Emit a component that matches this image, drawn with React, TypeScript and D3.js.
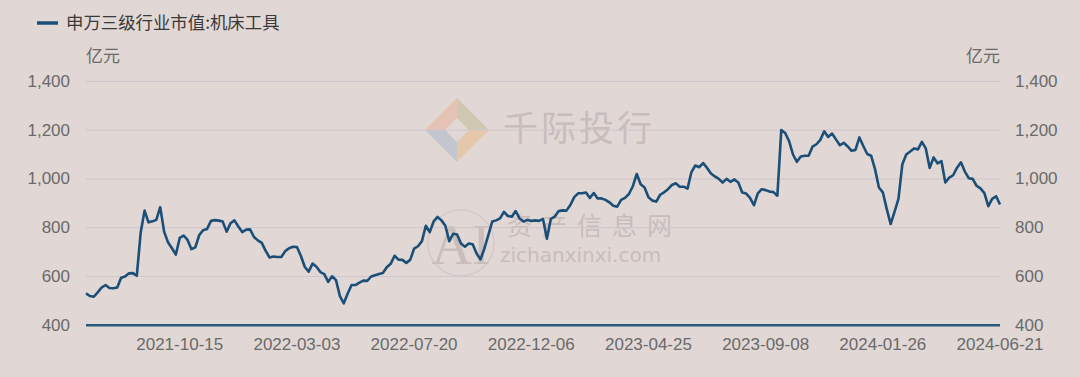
import React from "react";
import * as d3 from "d3";

const seriesName = "申万三级行业市值:机床工具";
const unitLabel = "亿元";
const yTicks = [400, 600, 800, 1000, 1200, 1400];
const xTickLabels = ["2021-10-15", "2022-03-03", "2022-07-20", "2022-12-06", "2023-04-25", "2023-09-08", "2024-01-26", "2024-06-21"];
const xTickIndex = [24, 54, 84, 114, 144, 174, 204, 234];

const values = [
  531, 520, 517, 535, 555, 565, 553, 552, 555, 595,
  600, 613, 614, 603, 780, 870, 822, 826, 832, 884,
  784, 740, 716, 690, 758, 768, 750, 712, 720, 770,
  790, 795, 828, 831, 829, 825, 784, 818, 830, 805,
  782, 792, 793, 762, 748, 738, 705, 678, 682, 680,
  680, 704, 716, 722, 721, 685, 640, 620, 653, 640,
  618, 610, 578, 601, 585, 520, 490, 530, 565, 565,
  575, 583, 582, 600, 605, 610, 614, 638, 652, 685,
  669, 668, 656, 668, 714, 724, 745, 808, 782, 826,
  844, 830, 808, 745, 775, 772, 735, 722, 735, 732,
  694, 670, 715, 770, 825, 830, 838, 865, 848, 845,
  868, 838, 825, 832, 828, 830, 828, 836, 755, 836,
  845, 868, 871, 870, 893, 925, 941, 941, 944, 922,
  942, 920, 920, 914, 904, 890, 886, 914, 922, 938,
  970, 1020, 978, 965, 925, 911, 907, 935, 945, 958,
  975, 982, 968, 968, 960, 1028, 1055, 1048, 1065, 1045,
  1022, 1010, 1000, 985, 1000, 988, 998, 985, 944, 940,
  922, 892, 941, 958, 954, 948, 946, 931, 1200, 1188,
  1155, 1100, 1070, 1092, 1095, 1095, 1132, 1142, 1160, 1195,
  1172, 1186, 1162, 1138, 1148, 1133, 1115, 1119, 1170, 1135,
  1102, 1095, 1040, 965, 945, 877, 815, 865, 918, 1060,
  1100, 1112, 1125, 1121, 1152, 1125, 1045, 1088, 1064, 1073,
  985, 1005, 1015, 1046, 1068, 1030, 1003, 1000, 972, 961,
  942, 888, 918, 929, 895,
];

const W = 1080;
const H = 377;
const left = 86;
const right = 1000;
const top = 81.3;
const bottom = 325.3;

const BG = "#e1d7d5";
const LINE = "#1b4f78";
const GRID = "#cfc5cc";
const AXIS = "#26597a";
const TXT = "#6a6a6a";
const FONT = "'Liberation Sans', Arial, 'Noto Sans CJK SC', sans-serif";
const CJK = "'Noto Sans CJK SC', 'Liberation Sans', sans-serif";

export default function App() {
  const x = d3.scaleLinear().domain([0, values.length - 1]).range([left, right]);
  const y = d3.scaleLinear().domain([400, 1400]).range([bottom, top]);
  const line = d3
    .line<number>()
    .x((_, i) => x(i))
    .y((d) => y(d));
  const fmt = d3.format(",");

  const cx = 457, cy = 130, r = 32;
  return (
    <svg width={W} height={H} style={{ position: "absolute", left: 0, top: 0, background: BG }}>
      <rect x={0} y={0} width={W} height={H} fill={BG} />
      {/* watermarks */}
      <g opacity={0.45}>
        <polygon points={`${cx - r},${cy} ${cx},${cy - r} ${cx},${cy - 12} ${cx - 12},${cy}`} fill="#e9a98e" />
        <polygon points={`${cx},${cy - r} ${cx + r},${cy} ${cx + 12},${cy} ${cx},${cy - 12}`} fill="#bdb48a" />
        <polygon points={`${cx - r},${cy} ${cx},${cy + r} ${cx},${cy + 12} ${cx - 12},${cy}`} fill="#9fb1c8" />
        <polygon points={`${cx + r},${cy} ${cx},${cy + r} ${cx},${cy + 12} ${cx + 12},${cy}`} fill="#ecb57a" />
      </g>
      <text x={503} y={141} fontFamily={CJK} fontSize={35} fill="#c9bdbc" letterSpacing={3}>千际投行</text>
      <circle cx={461} cy={243} r={33} fill="none" stroke="#d4c9c8" strokeWidth={1.5} />
      <text x={461} y={264} textAnchor="middle" fontFamily="'Liberation Serif', serif" fontSize={56} fill="#cabebd">AI</text>
      <text x={507} y={235} fontFamily={CJK} fontSize={25} fill="#c9bdbc" letterSpacing={10}>资产信息网</text>
      <text x={500} y={262} fontFamily="'DejaVu Sans', sans-serif" fontSize={20} fill="#c9bdbc">zichanxinxi.com</text>

      {/* legend */}
      <line x1={37} x2={58} y1={23} y2={23} stroke={LINE} strokeWidth={3.5} />
      <text x={66} y={29} fontFamily={CJK} fontSize={17.4} fill="#3a3a3a">{seriesName}</text>

      {/* units */}
      <text x={86} y={62} fontFamily={CJK} fontSize={17} fill={TXT}>{unitLabel}</text>
      <text x={1000} y={62} textAnchor="end" fontFamily={CJK} fontSize={17} fill={TXT}>{unitLabel}</text>

      {/* grid */}
      {yTicks.filter((t) => t !== 400).map((t) => (
        <line key={t} x1={left} x2={right} y1={y(t)} y2={y(t)} stroke={GRID} strokeWidth={1} />
      ))}
      {yTicks.map((t) => (
        <g key={"l" + t} fontFamily={FONT} fontSize={17} fill={TXT}>
          <text x={70} y={y(t)} textAnchor="end" dominantBaseline="central">{fmt(t)}</text>
          <text x={1015} y={y(t)} textAnchor="start" dominantBaseline="central">{fmt(t)}</text>
        </g>
      ))}
      <line x1={left} x2={right} y1={y(400)} y2={y(400)} stroke={AXIS} strokeWidth={2.5} />

      {xTickIndex.map((idx, k) => (
        <text key={idx} x={x(idx)} y={350} textAnchor="middle" fontFamily={FONT} fontSize={17} fill={TXT}>
          {xTickLabels[k]}
        </text>
      ))}

      <path d={line(values) || ""} fill="none" stroke={LINE} strokeWidth={2.6} strokeLinejoin="round" />
    </svg>
  );
}
